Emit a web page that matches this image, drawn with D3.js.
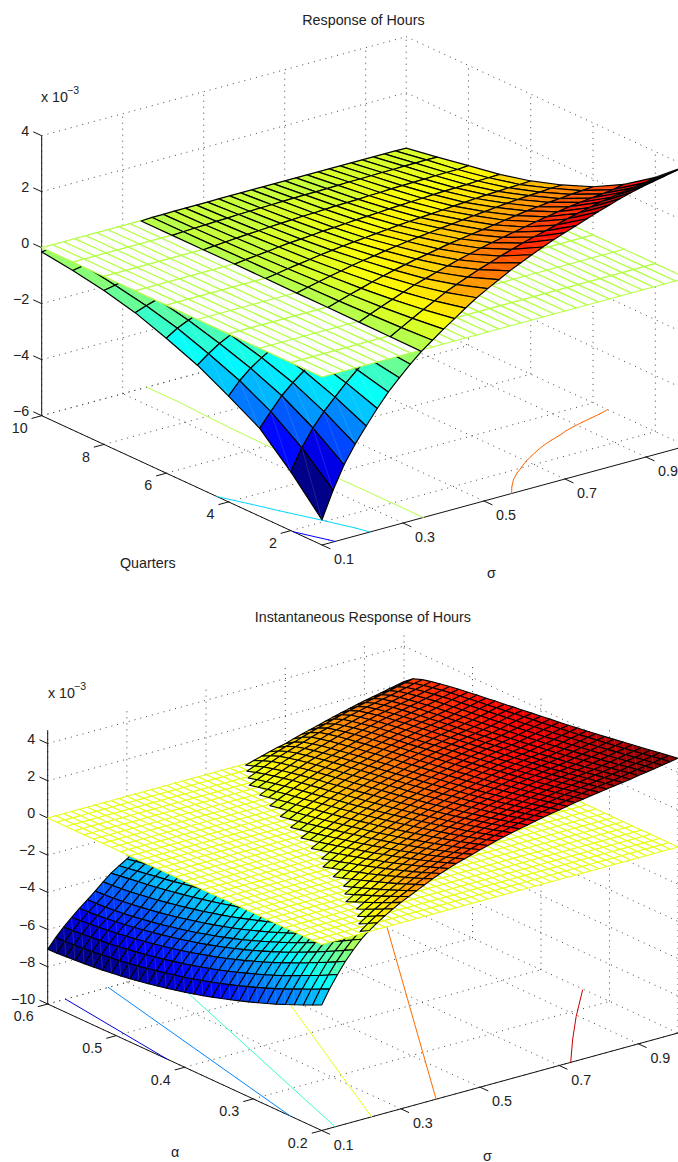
<!DOCTYPE html>
<html>
<head>
<meta charset="utf-8">
<script src="https://cdn.jsdelivr.net/npm/d3@7"></script>
<style>
body { margin: 0; background: #fff; overflow: hidden; }
text { font-family: "Liberation Sans", Arial, sans-serif; font-size: 14.3px; fill: #222; }
</style>
</head>
<body>
<div id="chart"></div>
<script>
//Top chart: hours response, rows = sigma, columns = quarter. Values are in units of 1e-5
const sigmaTop = [0.1,0.1273,0.1545,0.1818,0.2091,0.2364,0.2636,0.2909,0.3182,0.3455,0.3727,0.4,0.4273,0.4545,0.4818,0.5091,0.5364,0.5636,0.5909,0.6182,0.6455,0.6727,0.7,0.7273,0.7545,0.7818,0.8091,0.8364,0.8636,0.8909,0.9182,0.9455,0.9727,1];
const quarters = [1,2,3,4,5,6,7,8,9,10];
const hoursTop = [
[-510,-390,-286,-222,-163,-118,-78,-50,-30,-15],
[-415,-315,-237,-178,-133,-93,-64,-42,-23,-10],
[-335,-255,-191,-144,-107,-75,-52,-34,-18,-8],
[-272,-207,-155,-117,-87,-61,-42,-27,-15,-7],
[-218,-166,-124,-94,-70,-49,-34,-22,-12,-5],
[-166,-126,-95,-71,-53,-37,-26,-17,-9,-4],
[-118,-90,-67,-51,-38,-27,-18,-12,-6,-3],
[-78,-59,-44,-34,-25,-18,-12,-8,-4,-2],
[-40,-30,-23,-17,-13,-9,-6,-4,-2,-1],
[-5,-4,-3,-2,-2,-1,-1,-1,-1,-1],
[24,18,14,10,8,5,4,2,1,1],
[53,40,30,23,17,12,8,5,3,1],
[80,61,46,34,26,18,12,8,4,2],
[107,81,61,46,34,24,17,11,6,2],
[133,101,76,57,43,30,21,13,7,2],
[155,118,88,67,50,35,24,16,9,2],
[176,134,100,76,56,40,27,18,10,3],
[197,150,112,85,63,44,31,20,11,3],
[215,163,123,92,69,48,33,22,12,3],
[233,177,133,100,75,52,36,23,13,3],
[250,190,143,108,80,56,39,25,14,3],
[266,202,152,114,85,60,41,27,15,3],
[280,213,160,120,90,63,43,28,15,3],
[294,223,168,126,94,66,46,29,16,3],
[308,234,176,132,99,69,48,31,17,3],
[322,245,184,138,103,72,50,32,18,3],
[335,255,191,144,107,75,52,34,18,3],
[348,264,198,150,111,78,54,35,19,3],
[359,273,205,154,115,81,56,36,20,3],
[369,280,210,159,118,83,57,37,20,3],
[377,287,215,162,121,85,58,38,21,3],
[385,293,219,166,123,87,60,39,21,3],
[393,299,224,169,126,88,61,39,22,3],
[400,308,232,172,127,90,62,42,21,2]
];

//Bottom chart: instantaneous response, rows = sigma, columns = alpha. Same 1e-5 units
const sigmaBottom = [0.1,0.12,0.14,0.16,0.18,0.2,0.22,0.24,0.26,0.28,0.3,0.32,0.34,0.36,0.38,0.4,0.42,0.44,0.46,0.48,0.5,0.52,0.54,0.56,0.58,0.6,0.62,0.64,0.66,0.68,0.7,0.72,0.74,0.76,0.78,0.8,0.82,0.84,0.86,0.88,0.9,0.92,0.94,0.96,0.98,1];
const alphas = [0.2,0.2133,0.2267,0.24,0.2533,0.2667,0.28,0.2933,0.3067,0.32,0.3333,0.3467,0.36,0.3733,0.3867,0.4,0.4133,0.4267,0.44,0.4533,0.4667,0.48,0.4933,0.5067,0.52,0.5333,0.5467,0.56,0.5733,0.5867,0.6];
const hoursBottom = [
[-325,-348,-371,-392,-413,-434,-453,-472,-490,-507,-524,-540,-555,-570,-584,-597,-609,-620,-631,-642,-651,-660,-668,-675,-682,-688,-693,-697,-701,-704,-706],
[-250,-274,-298,-319,-342,-364,-385,-405,-424,-442,-460,-477,-493,-508,-523,-537,-550,-561,-573,-584,-594,-604,-612,-620,-627,-634,-640,-645,-649,-653,-655],
[-185,-210,-235,-258,-281,-304,-326,-347,-367,-386,-404,-422,-439,-455,-470,-484,-498,-511,-522,-534,-544,-554,-563,-571,-579,-586,-592,-597,-602,-607,-610],
[-125,-151,-176,-200,-224,-248,-270,-292,-313,-333,-352,-371,-388,-405,-421,-435,-449,-463,-475,-487,-498,-508,-518,-527,-535,-542,-549,-555,-560,-565,-570],
[-75,-101,-127,-152,-177,-201,-224,-247,-268,-289,-309,-328,-346,-363,-380,-395,-410,-424,-436,-449,-460,-471,-481,-490,-499,-507,-514,-520,-526,-530,-533],
[-30,-57,-84,-109,-135,-160,-184,-207,-229,-250,-270,-290,-309,-327,-344,-360,-375,-389,-403,-415,-427,-438,-449,-458,-467,-475,-482,-488,-493,-496,-498],
[5,-22,-49,-74,-99,-123,-147,-169,-191,-212,-232,-252,-270,-288,-305,-321,-336,-350,-364,-376,-388,-399,-410,-420,-429,-437,-444,-451,-456,-460,-463],
[35,9,-16,-40,-64,-88,-111,-133,-154,-175,-194,-213,-231,-248,-264,-280,-295,-309,-322,-335,-346,-358,-368,-378,-388,-396,-404,-411,-417,-422,-425],
[62,37,12,-10,-33,-56,-78,-99,-120,-139,-158,-176,-193,-210,-226,-240,-255,-268,-281,-293,-304,-315,-325,-335,-344,-353,-361,-368,-375,-383,-390],
[87,63,39,17,-5,-27,-48,-69,-89,-108,-126,-144,-161,-177,-192,-207,-221,-234,-247,-259,-270,-281,-291,-301,-311,-320,-328,-337,-345,-354,-362],
[110,86,63,41,20,-1,-22,-42,-61,-80,-97,-115,-131,-147,-162,-177,-191,-204,-217,-229,-240,-251,-261,-272,-281,-290,-299,-308,-317,-327,-337],
[130,107,85,64,44,24,4,-15,-33,-51,-68,-85,-100,-116,-130,-144,-157,-170,-182,-194,-205,-216,-226,-236,-245,-255,-264,-273,-283,-292,-302],
[150,128,106,86,66,47,28,10,-8,-25,-42,-57,-72,-87,-101,-115,-127,-140,-151,-163,-173,-184,-194,-204,-213,-222,-232,-241,-251,-261,-272],
[170,149,128,108,89,71,53,35,18,2,-14,-29,-44,-59,-72,-85,-98,-110,-122,-133,-143,-154,-164,-173,-183,-192,-201,-213,-223,-234,-245],
[190,169,149,130,112,94,76,59,43,27,12,-3,-18,-32,-45,-58,-71,-83,-94,-105,-116,-126,-136,-146,-155,-165,-175,-186,-197,-208,-220],
[207,187,167,149,131,114,97,81,65,50,35,20,6,-8,-21,-33,-46,-57,-69,-79,-90,-100,-110,-120,-130,-139,-149,-160,-171,-183,-195],
[222,203,184,166,149,132,116,100,85,70,56,42,29,15,3,-10,-22,-33,-44,-55,-65,-75,-85,-95,-105,-115,-125,-136,-147,-159,-172],
[237,218,200,183,166,150,134,119,104,90,76,63,50,37,24,12,1,-11,-22,-32,-42,-52,-62,-72,-82,-92,-102,-113,-125,-137,-150],
[250,232,214,198,181,166,150,136,121,108,94,81,68,56,44,32,21,10,0,-11,-21,-31,-40,-50,-60,-70,-80,-92,-104,-117,-130],
[263,245,228,212,196,181,166,152,138,125,112,99,87,75,63,52,41,31,20,10,0,-9,-19,-29,-38,-48,-59,-71,-83,-96,-110],
[276,259,242,226,211,196,182,168,154,141,129,116,104,93,82,71,60,50,40,30,21,11,2,-8,-18,-28,-39,-51,-63,-77,-92],
[288,271,255,240,225,211,197,184,171,158,146,134,122,111,100,89,79,69,59,50,40,31,21,12,2,-8,-19,-31,-44,-58,-74],
[300,284,268,253,239,225,212,199,186,174,162,150,139,128,117,107,97,87,78,68,59,49,40,31,21,11,0,-12,-25,-40,-57],
[311,295,280,266,252,239,226,213,201,189,177,166,155,144,134,124,114,104,95,86,76,67,58,49,39,29,18,6,-7,-22,-40],
[321,306,291,278,264,251,239,227,215,203,192,181,170,160,150,140,131,121,112,103,94,85,76,67,58,47,36,24,11,-6,-24],
[331,316,302,289,276,263,251,239,228,217,206,195,185,175,165,156,147,137,128,119,110,101,93,84,74,64,53,41,28,11,-8],
[340,326,312,299,286,274,263,251,240,230,219,209,199,190,180,171,162,153,144,135,127,118,109,100,91,81,70,59,46,27,6],
[349,335,322,309,297,285,274,263,252,242,232,222,212,203,194,185,176,167,159,150,141,133,124,115,106,97,87,75,62,43,18],
[358,345,332,320,308,296,285,274,264,254,244,234,225,216,207,198,190,181,173,164,156,147,139,130,121,111,101,90,77,57,30],
[366,353,341,329,318,306,295,285,275,265,255,246,237,228,219,211,203,194,186,177,169,161,152,143,134,125,115,104,91,70,41],
[374,361,349,338,327,316,305,295,285,275,266,257,248,240,231,222,214,206,198,190,181,173,165,156,147,138,128,116,103,81,50],
[382,370,359,348,337,326,316,306,296,287,278,269,260,252,243,235,227,219,211,203,195,187,178,170,161,152,142,131,118,96,64],
[390,378,367,356,346,335,325,316,306,297,288,279,271,262,254,246,238,230,223,215,207,199,191,183,174,165,156,145,132,109,76],
[397,386,375,365,354,344,335,325,316,307,299,290,282,274,266,258,250,242,234,227,219,211,203,195,187,178,168,157,144,122,88],
[404,393,383,372,362,352,343,334,325,316,308,299,291,283,275,267,260,252,245,237,229,222,214,206,198,189,179,168,155,133,99],
[410,400,390,380,370,360,351,342,333,324,316,308,300,292,285,277,270,262,255,247,240,232,225,217,209,200,190,179,167,147,111],
[416,406,396,386,377,367,358,349,341,332,324,316,308,301,293,286,279,271,264,257,249,242,235,227,219,211,201,190,178,158,123],
[422,412,403,393,384,374,365,356,348,340,332,324,316,309,302,294,287,280,273,266,259,252,244,237,229,221,212,201,189,169,134],
[428,418,409,400,390,381,372,363,354,346,338,331,323,316,309,302,295,288,281,274,267,260,253,246,238,230,221,211,199,179,144],
[434,425,415,406,396,387,378,370,361,353,345,337,330,323,316,309,302,295,288,281,275,268,261,254,247,239,230,220,208,189,154],
[442,433,423,414,405,395,387,378,369,361,353,346,338,331,324,317,310,303,297,290,283,276,270,263,256,248,239,229,218,199,164],
[449,440,431,421,412,403,395,386,378,370,362,354,347,340,333,326,319,312,305,299,292,285,279,272,265,257,248,238,227,208,173],
[456,447,438,429,420,411,403,395,387,379,371,364,356,349,342,335,329,322,315,309,302,295,289,282,275,267,258,248,236,218,182],
[463,454,446,437,429,420,412,404,396,388,381,373,366,359,352,345,339,332,326,319,313,306,299,293,285,277,268,258,246,227,191],
[470,462,453,445,436,428,420,412,404,397,389,382,375,368,361,355,348,342,335,329,322,316,309,302,295,287,278,268,256,237,200],
[477,469,461,452,444,436,428,420,412,405,397,390,383,376,370,363,357,350,344,337,331,324,318,311,304,296,287,277,265,247,209]
];

const sigmaTicks = [0.1,0.3,0.5,0.7,0.9];
const quarterTicks = [2,4,6,8,10];
const alphaTicks = [0.2,0.3,0.4,0.5,0.6];
const zTicksTop = [-6,-4,-2,0,2,4];
const zTicksBottom = [-10,-8,-6,-4,-2,0,2,4];
const levelsTop = [-4,-2,0,2];

//Bottom chart floor contours, each a list of [sigma, alpha]
const levelsBottom = [-6,-4,-2,0,2,4];
const contoursBottom = [
    [[0.145,0.6],[0.1,0.426]],
    [[0.253,0.6],[0.1,0.246]],
    [[0.396,0.6],[0.134,0.2]],
    [[0.61,0.6],[0.226,0.2]],
    [[0.899,0.566],[0.389,0.2]],
    [[0.996,0.337],[0.895,0.288],[0.809,0.2435],[0.729,0.2]]
];

const svg = d3.select('#chart').append('svg')
    .attr('width', 678)
    .attr('height', 1162)
    .style('display', 'block');

//MATLAB jet, 64 steps
const jetRamp = d3.scaleLinear()
    .domain([0, 1/8, 3/8, 5/8, 7/8, 1])
    .range(['#000080', '#0000ff', '#00ffff', '#ffff00', '#ff0000', '#800000']);
const jet = t => jetRamp((Math.min(63, Math.floor(t * 64)) + 0.5) / 64);

const line = d3.line();

function drawPanel(p) {
    const g = svg.append('g');
    const all = p.table.flat().map(v => v / 100);
    const colorOf = z => jet((z - d3.min(all)) / (d3.max(all) - d3.min(all)));

    const sX = d3.scaleLinear().domain([0.1, 1]).range(p.sigmaX);
    const sY = d3.scaleLinear().domain([0.1, 1]).range(p.sigmaY);
    const yX = d3.scaleLinear().domain(p.yDomain).range(p.yX);
    const yY = d3.scaleLinear().domain(p.yDomain).range(p.yY);
    const zY = d3.scaleLinear().domain(p.zDomain).range(p.zY);
    const pt = (s, y, z) => [p.ox + sX(s) + yX(y), p.oy + sY(s) + yY(y) + zY(z)];

    const [yFront, yBack] = p.yDomain;
    const [zFloor, zTop] = p.zDomain;
    const sMin = 0.1, sMax = 1;

    //dotted box grid
    const gridSegs = [];
    p.sTicks.forEach(s => {
        gridSegs.push([pt(s, yFront, zFloor), pt(s, yBack, zFloor)]);
        gridSegs.push([pt(s, yBack, zFloor), pt(s, yBack, zTop)]);
    });
    p.yTicks.forEach(y => {
        gridSegs.push([pt(sMin, y, zFloor), pt(sMax, y, zFloor)]);
        gridSegs.push([pt(sMax, y, zFloor), pt(sMax, y, zTop)]);
    });
    p.zTicks.forEach(z => {
        gridSegs.push([pt(sMin, yBack, z), pt(sMax, yBack, z)]);
        gridSegs.push([pt(sMax, yBack, z), pt(sMax, yFront, z)]);
    });
    g.append('g').selectAll('path').data(gridSegs).join('path')
        .attr('d', line)
        .attr('fill', 'none')
        .attr('stroke', '#444')
        .attr('stroke-width', 1)
        .attr('stroke-dasharray', '1 5');

    //axes lines and ticks
    const axisSegs = [
        [pt(sMin, yBack, zFloor), pt(sMin, yBack, zTop)],
        [pt(sMin, yFront, zFloor), pt(sMin, yBack, zFloor)],
        [pt(sMin, yFront, zFloor), pt(sMax, yFront, zFloor)]
    ];
    const tickY = (yBack - yFront) * 0.03;
    p.sTicks.forEach(s => axisSegs.push([pt(s, yFront, zFloor), pt(s, yFront - tickY, zFloor)]));
    p.yTicks.forEach(y => axisSegs.push([pt(sMin, y, zFloor), pt(sMin - 0.025, y, zFloor)]));
    p.zTicks.forEach(z => axisSegs.push([pt(sMin, yBack, z), pt(sMin, yBack + tickY, z)]));
    g.append('g').selectAll('path').data(axisSegs).join('path')
        .attr('d', line)
        .attr('fill', 'none')
        .attr('stroke', '#111')
        .attr('stroke-width', 1);

    p.levels.forEach((level, n) => {
        const segs = [];
        const L = level * 100;
        if (p.contours) {
            segs.push(p.contours[n].map(d => pt(d[0], d[1], zFloor)));
        } else {
            for (let i = 0; i < p.sigma.length - 1; i++) {
                for (let j = 0; j < p.ys.length - 1; j++) {
                    const c = [[i, j], [i + 1, j], [i + 1, j + 1], [i, j + 1]];
                    const cross = [];
                    c.forEach((a, k) => {
                        const b = c[(k + 1) % 4];
                        const va = p.table[a[0]][a[1]], vb = p.table[b[0]][b[1]];
                        if ((va < L) !== (vb < L)) {
                            const t = (L - va) / (vb - va);
                            cross.push(pt(
                                p.sigma[a[0]] + t * (p.sigma[b[0]] - p.sigma[a[0]]),
                                p.ys[a[1]] + t * (p.ys[b[1]] - p.ys[a[1]]),
                                zFloor));
                        }
                    });
                    if (cross.length >= 2) segs.push([cross[0], cross[1]]);
                    if (cross.length === 4) segs.push([cross[2], cross[3]]);
                }
            }
        }
        g.append('g').selectAll('path').data(segs).join('path')
            .attr('d', line)
            .attr('fill', 'none')
            .attr('stroke', colorOf(level))
            .attr('stroke-linecap', 'round')
            .attr('stroke-width', 1);
    });

    //surface cells, far ones first
    const cells = [];
    for (let j = p.ys.length - 2; j >= 0; j--) {
        for (let i = p.sigma.length - 2; i >= 0; i--) {
            const v = [p.table[i][j], p.table[i + 1][j], p.table[i + 1][j + 1], p.table[i][j + 1]].map(d => d / 100);
            const corners = [
                pt(p.sigma[i], p.ys[j], v[0]),
                pt(p.sigma[i + 1], p.ys[j], v[1]),
                pt(p.sigma[i + 1], p.ys[j + 1], v[2]),
                pt(p.sigma[i], p.ys[j + 1], v[3])
            ];
            const flat = [
                pt(p.sigma[i], p.ys[j], 0),
                pt(p.sigma[i + 1], p.ys[j], 0),
                pt(p.sigma[i + 1], p.ys[j + 1], 0),
                pt(p.sigma[i], p.ys[j + 1], 0)
            ];
            cells.push({ corners, flat, color: colorOf(v[0]), mean: d3.mean(v) });
        }
    }

    const drawCells = (data, key, fill, stroke, seam, seamOpacity) => {
        const cg = g.append('g');
        data.forEach(c => {
            cg.append('path')
                .attr('d', line(c[key]) + 'Z')
                .attr('fill', fill(c))
                .attr('stroke', stroke)
                .attr('stroke-width', p.meshWidth)
                .attr('stroke-linejoin', 'round');
            cg.append('path')
                .attr('d', line([c[key][0], c[key][2]]))
                .attr('stroke', seam)
                .attr('stroke-opacity', seamOpacity)
                .attr('stroke-width', 0.5);
        });
    };

    drawCells(cells.filter(c => c.mean < 0), 'corners', c => c.color, '#000', '#fff', 0.25);
    drawCells(cells, 'flat', () => '#fff', colorOf(0), p.planeSeam, 0.3);
    drawCells(cells.filter(c => c.mean >= 0), 'corners', c => c.color, '#000', '#fff', 0.25);

    //tick labels
    const fmt = p.yFormat;
    const labels = g.append('g');
    p.sTicks.forEach(s => {
        const a = pt(s, yFront, zFloor);
        labels.append('text').attr('x', a[0] + 12).attr('y', a[1] + 19).text(d3.format('.1f')(s));
    });
    p.yTicks.forEach(y => {
        const a = pt(sMin, y, zFloor);
        labels.append('text').attr('x', a[0] - 14).attr('y', a[1] + 17.3)
            .attr('text-anchor', 'end').text(fmt(y));
    });
    p.zTicks.forEach(z => {
        const a = pt(sMin, yBack, z);
        labels.append('text').attr('x', a[0] - 12.5).attr('y', a[1])
            .attr('text-anchor', 'end').text(String(z).replace('-', '\u2212'));
    });

    labels.append('text').attr('x', p.titleX).attr('y', p.titleY)
        .attr('text-anchor', 'middle').text(p.title);
    labels.append('text').attr('x', p.expX).attr('y', p.expY).text('x 10');
    labels.append('text').attr('x', p.expX + 26).attr('y', p.expY - 8)
        .style('font-size', '10.5px').text('\u22123');
    labels.append('text').attr('x', p.yLabelX).attr('y', p.yLabelY).text(p.yLabel);
    labels.append('text').attr('x', p.sLabelX).attr('y', p.sLabelY).text('\u03c3');
}

drawPanel({
    sigma: sigmaTop, ys: quarters, table: hoursTop,
    sTicks: sigmaTicks, yTicks: quarterTicks, zTicks: zTicksTop, levels: levelsTop,
    ox: 322, oy: 545,
    sigmaX: [0, 364.5], sigmaY: [0, -99],
    yDomain: [1, 10], yX: [0, -280.3], yY: [0, -129.3],
    zDomain: [-6, 4], zY: [0, -280],
    meshWidth: 1.2, planeSeam: '#999',
    yFormat: d3.format('d'),
    title: 'Response of Hours', titleX: 363.5, titleY: 25,
    expX: 41, expY: 102,
    yLabel: 'Quarters', yLabelX: 120, yLabelY: 568,
    sLabelX: 487, sLabelY: 578
});

drawPanel({
    sigma: sigmaBottom, ys: alphas, table: hoursBottom,
    sTicks: sigmaTicks, yTicks: alphaTicks, zTicks: zTicksBottom, levels: levelsBottom,
    contours: contoursBottom,
    ox: 321.7, oy: 1130.5,
    sigmaX: [0, 356.3], sigmaY: [0, -97.5],
    yDomain: [0.2, 0.6], yX: [0, -274], yY: [0, -126.5],
    zDomain: [-10, 4.72], zY: [0, -273.8],
    meshWidth: 1.1, planeSeam: '#fff',
    yFormat: d3.format('.1f'),
    title: 'Instantaneous Response of Hours', titleX: 362.9, titleY: 622,
    expX: 48, expY: 698,
    yLabel: '\u03b1', yLabelX: 171, yLabelY: 1157,
    sLabelX: 483, sLabelY: 1160.5
});
</script>
</body>
</html>
